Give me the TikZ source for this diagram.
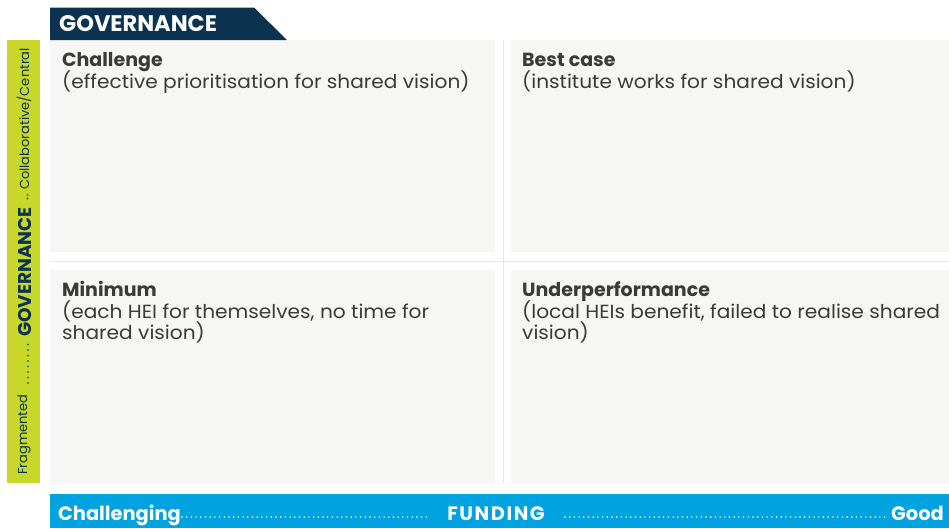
\documentclass[tikz,border=0pt]{standalone}
\usepackage{fontspec}
\setmainfont{Poppins}
\newfontfamily\bodyfont{Poppins}[FakeStretch=1.06]
\newfontfamily\spacedfont{Poppins}[LetterSpace=8]
\begin{document}
\begin{tikzpicture}[x=1pt,y=-1pt,
  quad/.style={fill=quadgray,draw=none},
  qtitle/.style={anchor=base west,inner sep=0pt,text=qtextc,font=\fontsize{19}{22}\selectfont\bfseries},
  qbody/.style={anchor=base west,align=left,inner sep=0pt,text=qtextc,font=\bodyfont\fontsize{19}{21.7}\selectfont},
  bartext/.style={text=white,font=\fontsize{19.4}{22}\selectfont\bfseries,inner sep=0pt,anchor=base},
  whitedots/.style={draw=white,line width=1.6pt,line cap=round,dash pattern=on 0pt off 4.7pt},
  navydots/.style={draw=navy,line width=1.6pt,line cap=round,dash pattern=on 0pt off 5.5pt},
  sidetextstyle/.style={rotate=90,anchor=west,inner sep=0pt,text=navy,font=\fontsize{13}{15}\selectfont}]
\definecolor{navy}{HTML}{0B3350}
\definecolor{lime}{HTML}{C8D82B}
\definecolor{fundblue}{HTML}{00A3DF}
\definecolor{quadgray}{HTML}{F6F6F4}
\definecolor{divgray}{HTML}{E6E6E2}
\definecolor{qtextc}{HTML}{3A3A3A}
\useasboundingbox (0,0) rectangle (949,528);
\fill[white] (0,0) rectangle (949,528);
% quadrants
\fill[quad] (50,40) rectangle (495,252);
\fill[quad] (511,40) rectangle (949,252);
\fill[quad] (50,270) rectangle (495,483);
\fill[quad] (511,270) rectangle (949,483);
\draw[divgray,line width=1pt] (503.5,40) -- (503.5,483);
\draw[divgray,line width=1pt] (50,261.5) -- (949,261.5);
% tab
\fill[navy] (50,7.5) -- (254,7.5) -- (287,40) -- (50,40) -- cycle;
\node[anchor=base west,inner sep=0pt,text=white,font=\fontsize{22.5}{26}\selectfont\bfseries] (tab) at (59,31.5) {GOVERNANCE};
% quadrant texts
\node[qtitle] (q1t) at (62,66.5) {Challenge};
\node[qbody] (q1b) at (62,88) {(effective prioritisation for shared vision)};
\node[qtitle] (q2t) at (522,66.5) {Best case};
\node[qbody] (q2b) at (522,88) {(institute works for shared vision)};
\node[qtitle] (q3t) at (62,296.5) {Minimum};
\node[qbody] (q3b) at (62,318.2) {(each HEI for themselves, no time for};
\node[qbody] (q3c) at (62,339.9) {shared vision)};
\node[qtitle] (q4t) at (522,296.5) {Underperformance};
\node[qbody] (q4b) at (522,318.2) {(local HEIs benefit, failed to realise shared};
\node[qbody] (q4c) at (522,339.9) {vision)};
% side bar
\fill[lime] (7,40) rectangle (40,483);
\node[sidetextstyle] (frag) at (24,475) {Fragmented};
\node[sidetextstyle,font=\fontsize{18.5}{20}\selectfont\bfseries] (gov) at (24.5,337) {GOVERNANCE};
\node[sidetextstyle] (collab) at (24,190) {Collaborative/Central};
\coordinate (d1a) at (28,383); \coordinate (d1b) at (28,343);
\draw[navydots] (d1a) -- (d1b);
\coordinate (d2a) at (27.5,198.5); \coordinate (d2b) at (27.5,195);
\draw[navydots,dash pattern=on 0pt off 3.5pt] (d2a) -- (d2b);
% funding bar
\fill[fundblue] (50,494) rectangle (949,528);
\node[bartext,anchor=base west] (chal) at (58,520.5) {Challenging};
\node[bartext,font=\spacedfont\fontsize{19.4}{22}\selectfont\bfseries] (fund) at (496,520.5) {FUNDING};
\node[bartext,anchor=base east] (good) at (944,520.5) {Good};
\coordinate (l1a) at (182,517); \coordinate (l1b) at (428,517);
\coordinate (l2a) at (565,517); \coordinate (l2b) at (888,517);
\draw[whitedots] (l1a) -- (l1b);
\draw[whitedots] (l2a) -- (l2b);
\end{tikzpicture}
\end{document}
